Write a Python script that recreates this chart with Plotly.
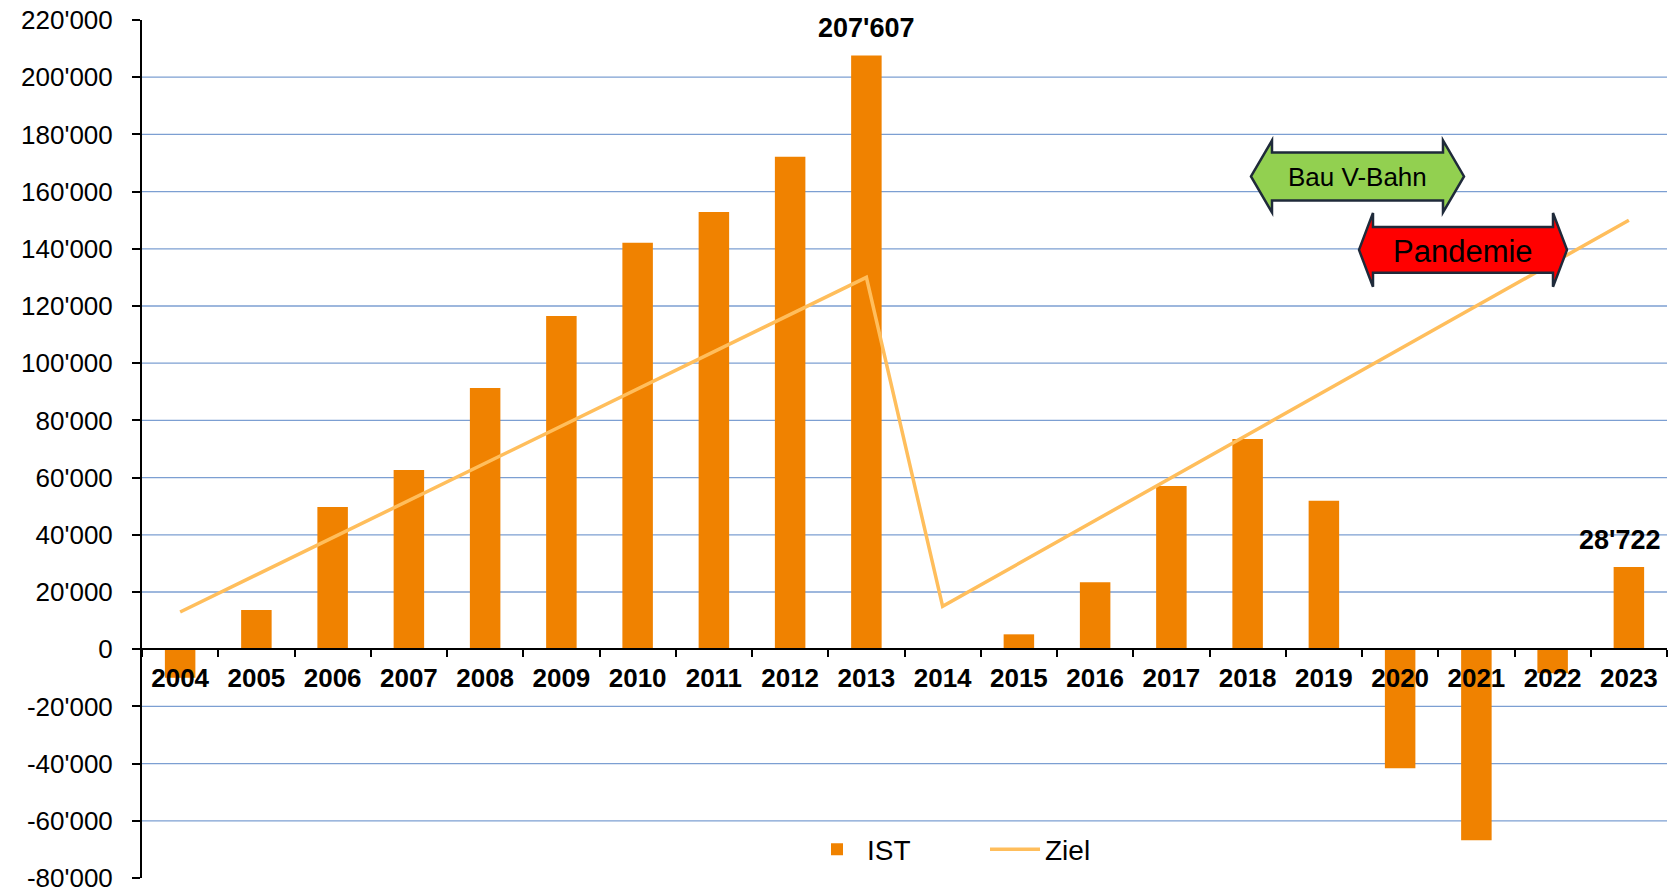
import plotly.graph_objects as go

# ---------------- data ----------------
years = ["2004", "2005", "2006", "2007", "2008", "2009", "2010", "2011", "2012", "2013",
         "2014", "2015", "2016", "2017", "2018", "2019", "2020", "2021", "2022", "2023"]
ist = [-10000, 13700, 49700, 62700, 91300, 116500, 142100, 152900, 172200, 207607,
       0, 5200, 23400, 57100, 73500, 51900, -41600, -66800, -8400, 28722]
ziel = [13000, 26000, 39000, 52000, 65000, 78000, 91000, 104000, 117000, 130000,
        15000, 30000, 45000, 60000, 75000, 90000, 105000, 120000, 135000, 150000]
y_tick_values = [220000, 200000, 180000, 160000, 140000, 120000, 100000, 80000, 60000,
                 40000, 20000, 0, -20000, -40000, -60000, -80000]
y_tick_labels = ["220'000", "200'000", "180'000", "160'000", "140'000", "120'000",
                 "100'000", "80'000", "60'000", "40'000", "20'000", "0",
                 "-20'000", "-40'000", "-60'000", "-80'000"]
grid_values = [200000, 180000, 160000, 140000, 120000, 100000, 80000, 60000,
               40000, 20000, -20000, -40000, -60000]
labelled_years = ["2013", "2023"]
label_texts = ["207'607", "28'722"]
label_values = [207607, 28722]
label_xshift = [0, -9]

# ---------------- layout geometry ----------------
W, H = 1670, 893
PLOT_L, PLOT_T, PLOT_R, PLOT_B = 142, 20, 1667, 878.5   # page pixels
ML, MT = PLOT_L, PLOT_T
MR, MB = W - PLOT_R, H - PLOT_B
PW, PH = PLOT_R - PLOT_L, PLOT_B - PLOT_T
Y_MIN, Y_MAX = -80000, 220000
FONT = "Arial, 'Liberation Sans', sans-serif"


def px(x):
    return (x - PLOT_L) / PW


def py(y):
    return (PLOT_B - y) / PH


def arrow_path(L, R, C, Hh, B, HL):
    pts = [(L, C), (L + HL, C - Hh), (L + HL, C - B), (R - HL, C - B), (R - HL, C - Hh),
           (R, C), (R - HL, C + Hh), (R - HL, C + B), (L + HL, C + B), (L + HL, C + Hh)]
    s = "M " + " L ".join(f"{px(a):.5f},{py(b):.5f}" for a, b in pts) + " Z"
    return s


fig = go.Figure()

fig.add_trace(go.Bar(
    x=years, y=ist, name="IST",
    marker=dict(color="#F08200", line=dict(width=0)),
))
fig.add_trace(go.Scatter(
    x=years, y=ziel, name="Ziel", mode="lines",
    line=dict(color="#FFBE5C", width=3.5),
))

shapes = []
for g in grid_values:
    shapes.append(dict(type="line", xref="paper", yref="y", x0=0, x1=1, y0=g, y1=g,
                       line=dict(color="#7C9FD2", width=1.3), layer="below"))

# Annotation arrows
shapes.append(dict(type="path", xref="paper", yref="paper",
                   path=arrow_path(1251, 1464, 176.5, 36, 24, 21),
                   fillcolor="#92D050", line=dict(color="#1F2A3A", width=2.5)))
shapes.append(dict(type="path", xref="paper", yref="paper",
                   path=arrow_path(1359, 1567, 250, 37, 23, 14),
                   fillcolor="#FF0000", line=dict(color="#1F2A3A", width=2.5)))

annotations = []
for yr, txt, val, xs in zip(labelled_years, label_texts, label_values, label_xshift):
    annotations.append(dict(x=years.index(yr), y=val, xref="x", yref="y",
                            text=f"<b>{txt}</b>",
                            showarrow=False, xanchor="center", yanchor="bottom",
                            yshift=10, xshift=xs,
                            font=dict(family=FONT, size=27, color="black")))
annotations.append(dict(x=px(1357), y=py(177.5), xref="paper", yref="paper",
                        xanchor="center", yanchor="middle",
                        text="Bau V-Bahn", showarrow=False,
                        font=dict(family=FONT, size=26, color="black")))
annotations.append(dict(x=px(1463), y=py(252), xref="paper", yref="paper",
                        xanchor="center", yanchor="middle",
                        text="Pandemie", showarrow=False,
                        font=dict(family=FONT, size=31, color="black")))

fig.update_layout(
    width=W, height=H,
    margin=dict(l=ML, r=MR, t=MT, b=MB, pad=0, autoexpand=False),
    paper_bgcolor="white", plot_bgcolor="white",
    font=dict(family=FONT, color="black"),
    bargap=0.6,
    shapes=shapes,
    annotations=annotations,
    showlegend=True,
    legend=dict(orientation="h", x=px(807), xanchor="left", y=py(850), yanchor="middle",
                font=dict(family=FONT, size=28, color="black"),
                bgcolor="rgba(0,0,0,0)", itemwidth=50, traceorder="normal",
                entrywidth=113, entrywidthmode="pixels"),
    xaxis=dict(
        type="category", range=[-0.5, 19.5], automargin=False,
        anchor="free", position=(0 - Y_MIN) / (Y_MAX - Y_MIN),
        showline=True, linecolor="black", linewidth=2,
        ticks="outside", tickson="boundaries", ticklen=7, tickwidth=2, tickcolor="black",
        showgrid=False, zeroline=False,
        tickfont=dict(family=FONT, size=26, color="black", weight="bold"),
        ticklabelstandoff=6, ticklabeloverflow="allow",
    ),
    yaxis=dict(
        range=[Y_MIN, Y_MAX], automargin=False,
        tickmode="array", tickvals=y_tick_values, ticktext=y_tick_labels,
        showline=True, linecolor="black", linewidth=2,
        ticks="outside", ticklen=8, tickwidth=2, tickcolor="black",
        showgrid=False, zeroline=False,
        tickfont=dict(family=FONT, size=26, color="black"),
        ticklabelstandoff=14, ticklabeloverflow="allow",
    ),
)

fig.write_html("out.html", config={"displayModeBar": False},
               post_script="document.body.style.margin='0px';")
